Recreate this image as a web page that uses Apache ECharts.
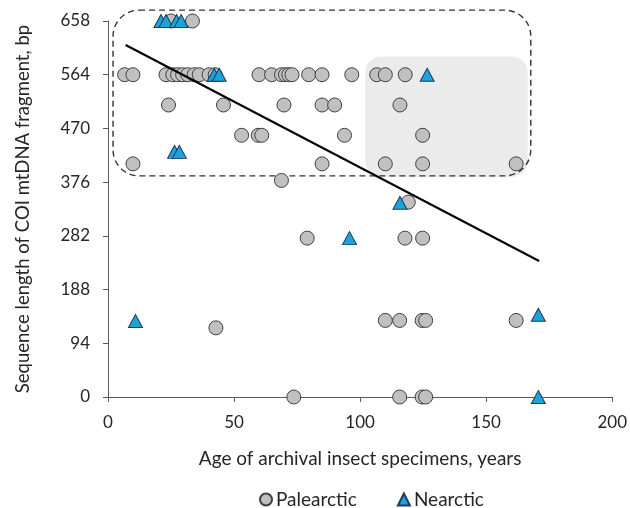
<!DOCTYPE html>
<html>
<head>
<meta charset="utf-8">
<script src="https://cdn.jsdelivr.net/npm/echarts@6/dist/echarts.min.js"></script>
<style>html,body{margin:0;padding:0;background:#fff}#c{width:630px;height:508px}</style>
</head>
<body>
<div id="c"></div>
<script>
// ---- data ----
const palearcticAge = [25, 33.5,
  6.6, 9.9, 23, 25.7, 27.6, 29.6, 31.6, 34.2, 36.2, 40.1, 42.5, 59.9, 64.9, 68.8, 70.4, 71.7, 73, 79.6, 84.9, 96.7, 106.6, 110, 117.9,
  24, 45.8, 69.8, 84.9, 89.9, 115.8,
  53, 59.6, 61, 93.8, 124.8,
  9.9, 84.9, 110, 124.8, 161.9,
  68.8, 119.1,
  79, 117.8, 124.8,
  110, 115.7, 124.6, 126, 161.9,
  42.8,
  73.7, 115.7, 124.6, 126];
const palearcticLen = [658, 658,
  564, 564, 564, 564, 564, 564, 564, 564, 564, 564, 564, 564, 564, 564, 564, 564, 564, 564, 564, 564, 564, 564, 564,
  511, 511, 511, 511, 511, 511,
  458, 458, 458, 458, 458,
  408, 408, 408, 408, 408,
  379, 341,
  278, 278, 278,
  134, 134, 134, 134, 134,
  121,
  0, 0, 0, 0];
const nearcticAge = [21, 23, 27.2, 29, 42.1, 44.1, 126.6, 26.4, 28.3, 115.8, 95.8, 10.9, 170.7, 170.7];
const nearcticLen = [658, 658, 658, 658, 564, 564, 564, 429, 429, 340, 278, 133, 144, 0];
const trendAge = [7, 171];
const trendLen = [616, 238];
// regions: [x0, yTop, x1, yBottom]
const outerRegion = [2, 677, 167.7, 387];
const shadedRegion = [102, 596, 166.5, 385];
const yTicks = [0, 94, 188, 282, 376, 470, 564, 658];
const xTicks = [0, 50, 100, 150, 200];

const zip = (a, b) => a.map((v, i) => [v, b[i]]);
const FONT = 'Lato, "Open Sans", sans-serif';
const TXT = '#262626';
const AX = '#595959';

function roundedBox(fill, stroke, dash, r) {
  return function (params, api) {
    const p0 = api.coord([api.value(0), api.value(1)]);
    const p1 = api.coord([api.value(2), api.value(3)]);
    return {
      type: 'rect',
      shape: { x: p0[0], y: p0[1], width: p1[0] - p0[0], height: p1[1] - p0[1], r: r },
      style: { fill: fill, stroke: stroke, lineWidth: stroke ? 1.4 : 0, lineDash: dash }
    };
  };
}

const chart = echarts.init(document.getElementById('c'), null, { renderer: 'canvas' });
chart.setOption({
  animation: false,
  backgroundColor: '#fff',
  textStyle: { fontFamily: FONT, color: TXT },
  grid: { left: 108, right: 16, top: 21, bottom: 111, containLabel: false },
  legend: {
    top: 485,
    left: 254,
    itemGap: 40,
    itemWidth: 12,
    itemHeight: 12,
    textStyle: { fontFamily: FONT, fontSize: 19, color: TXT, padding: [0, 0, 0, -1] },
    data: [
      { name: 'Palearctic', icon: 'circle' },
      { name: 'Nearctic', icon: 'triangle' }
    ]
  },
  xAxis: {
    type: 'value', min: 0, max: 200, interval: 50,
    name: 'Age of archival insect specimens, years',
    nameLocation: 'middle', nameGap: 52,
    nameTextStyle: { fontFamily: FONT, fontSize: 19, color: TXT },
    axisLine: { show: true, onZero: false, lineStyle: { color: AX, width: 1 } },
    axisTick: { show: true, length: 5, lineStyle: { color: AX } },
    axisLabel: { fontFamily: FONT, fontSize: 17, color: TXT, margin: 17,
      formatter: v => xTicks.includes(v) ? String(v) : '' },
    splitLine: { show: false }
  },
  yAxis: {
    type: 'value', min: 0, max: 658, interval: 94,
    name: 'Sequence length of COI mtDNA fragment, bp',
    nameLocation: 'middle', nameGap: 75,
    nameTextStyle: { fontFamily: FONT, fontSize: 18.5, color: TXT },
    axisLine: { show: true, onZero: false, lineStyle: { color: AX, width: 1 } },
    axisTick: { show: true, length: 5, lineStyle: { color: AX } },
    axisLabel: { fontFamily: FONT, fontSize: 17, color: TXT, margin: 18,
      formatter: v => yTicks.includes(v) ? String(v) : '' },
    splitLine: { show: false }
  },
  series: [
    {
      type: 'custom', name: 'shaded', z: 1, clip: false, silent: true,
      renderItem: roundedBox('#ebebeb', null, null, 16),
      data: [shadedRegion]
    },
    {
      type: 'custom', name: 'outer', z: 2, clip: false, silent: true,
      renderItem: roundedBox('none', '#333333', [6, 4], 26),
      data: [outerRegion]
    },
    {
      type: 'scatter', name: 'Palearctic', z: 3,
      symbol: 'circle', symbolSize: 14,
      itemStyle: { color: '#c0c0c0', borderColor: '#404040', borderWidth: 1, opacity: 1 },
      data: zip(palearcticAge, palearcticLen)
    },
    {
      type: 'scatter', name: 'Nearctic', z: 4,
      symbol: 'triangle', symbolSize: [14, 13],
      itemStyle: { color: '#1ca3dc', borderColor: '#1d3d5a', borderWidth: 1, opacity: 1 },
      data: zip(nearcticAge, nearcticLen)
    },
    {
      type: 'line', name: 'trend', z: 5, symbol: 'none', silent: true,
      lineStyle: { color: '#000', width: 2 },
      data: zip(trendAge, trendLen)
    }
  ]
});
</script>
</body>
</html>
